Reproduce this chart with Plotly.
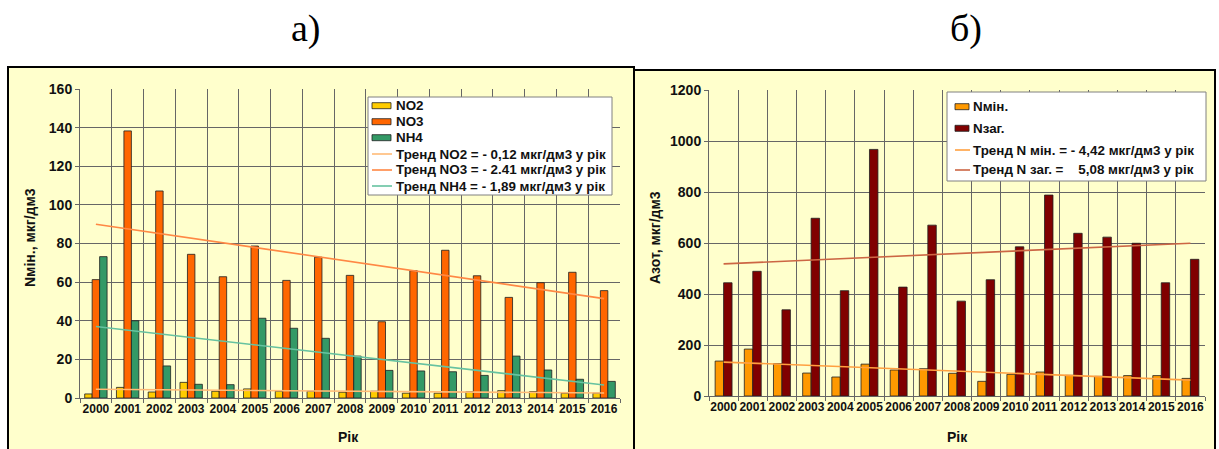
import plotly.graph_objects as go

W, H = 1219, 449

years = [str(y) for y in range(2000, 2017)]

# Panel а) — mineral nitrogen forms, мкг/дм3
no2 = [2.1, 5.5, 3.1, 8.1, 3.5, 4.7, 3.5, 3.5, 3.0, 3.5, 2.5, 2.5, 3.3, 3.8, 3.3, 2.5, 2.5]
no3 = [61.3, 138.3, 107.2, 74.4, 62.8, 78.7, 60.9, 72.9, 63.5, 39.5, 65.9, 76.5, 63.3, 52.1, 59.7, 65.1, 55.6]
nh4 = [73.2, 40.0, 16.6, 7.1, 6.9, 41.3, 36.1, 30.9, 21.7, 14.3, 14.0, 13.6, 11.7, 21.7, 14.5, 9.7, 8.6]

# Linear trends: value at 2000 and slope per year
trend_no2 = (4.5, -0.12)
trend_no3 = (90.0, -2.41)
trend_nh4 = (37.0, -1.89)

# Panel б) — mineral and total nitrogen, мкг/дм3
n_min = [137, 184, 127, 90, 74.5, 125, 102, 107, 89, 57.5, 85, 94, 81, 77, 80, 80, 69]
n_tot = [444, 489, 338, 697, 413, 967, 427, 670, 372, 456, 585, 788, 638, 623, 599, 444, 536]

trend_nmin = (133.0, -4.42)
trend_ntot = (518.0, 5.08)

FONT = "Arial, Liberation Sans, sans-serif"
TXT = "#111111"
NB = "\u00a0"


def trend(params):
    a, b = params
    return [a + b * i for i in range(len(years))]


def px(x):
    return x / W


def py(y):
    return 1 - y / H


fig = go.Figure()
shapes = []
annotations = []

# ---- panel а)
bw = 0.235
series_a = [
    ("NO2", no2, "#FFCC00", -1.5 * bw),
    ("NO3", no3, "#FF6600", -0.5 * bw),
    ("NH4", nh4, "#339966", 0.5 * bw),
]
trends_a = [
    ("Тренд NO2 = - 0,12 мкг/дм3 у рік", trend_no2, "#FFBB77"),
    ("Тренд NO3 = - 2.41 мкг/дм3 у рік", trend_no3, "#FF8844"),
    ("Тренд NH4 = - 1,89 мкг/дм3 у рік", trend_nh4, "#66C2A0"),
]
for name, vals, col, off in series_a:
    fig.add_trace(go.Bar(
        x=years, y=vals, name=name, width=bw, offset=off, showlegend=False,
        marker=dict(color=col, line=dict(color="#202020", width=0.8)),
        xaxis="x", yaxis="y",
    ))
for name, params, col in trends_a:
    fig.add_trace(go.Scatter(
        x=years, y=trend(params), name=name, mode="lines", showlegend=False,
        line=dict(color=col, width=1.6), xaxis="x", yaxis="y",
    ))

# ---- panel б)
bw2 = 0.29
series_b = [
    ("Nмін.", n_min, "#FF9900", -bw2),
    ("Nзаг.", n_tot, "#800000", 0.0),
]
trends_b = [
    ("Тренд N мін. = - 4,42 мкг/дм3 у рік", trend_nmin, "#FFA040"),
    ("Тренд N заг. =" + NB * 4 + "5,08 мкг/дм3 у рік", trend_ntot, "#CC6644"),
]
for name, vals, col, off in series_b:
    fig.add_trace(go.Bar(
        x=years, y=vals, name=name, width=bw2, offset=off, showlegend=False,
        marker=dict(color=col, line=dict(color="#202020", width=0.8)),
        xaxis="x2", yaxis="y2",
    ))
for name, params, col in trends_b:
    fig.add_trace(go.Scatter(
        x=years, y=trend(params), name=name, mode="lines", showlegend=False,
        line=dict(color=col, width=1.6), xaxis="x2", yaxis="y2",
    ))


def legend_box(box, rows, sw_x, sw_w, text_x, entries):
    """Boxed key: entries are (label, colour, kind) with kind 'bar' or 'line'."""
    x0, y0, x1, y1 = box
    shapes.append(dict(type="rect", xref="paper", yref="paper", layer="above",
                       x0=px(x0), x1=px(x1), y0=py(y1), y1=py(y0),
                       fillcolor="white", line=dict(color="#808080", width=1)))
    for (label, col, kind), yc in zip(entries, rows):
        if kind == "bar":
            shapes.append(dict(type="rect", xref="paper", yref="paper", layer="above",
                               x0=px(sw_x), x1=px(sw_x + sw_w), y0=py(yc + 3), y1=py(yc - 3),
                               fillcolor=col, line=dict(color="#202020", width=0.8)))
        else:
            shapes.append(dict(type="line", xref="paper", yref="paper", layer="above",
                               x0=px(sw_x), x1=px(sw_x + sw_w + 1), y0=py(yc), y1=py(yc),
                               line=dict(color=col, width=1.6)))
        annotations.append(dict(text=label, x=px(text_x), y=py(yc), xref="paper", yref="paper",
                                xanchor="left", yanchor="middle", showarrow=False,
                                font=dict(family=FONT, size=13.4, color=TXT, weight="bold")))


legend_box((368, 97, 612, 195), [105.7, 121.7, 137.7, 154, 170, 186], 372, 19, 394,
           [(n, c, "bar") for n, _, c, _ in series_a] + [(n, c, "line") for n, _, c in trends_a])
legend_box((947, 92, 1206, 181), [106.7, 128.3, 150, 170], 955, 14, 971,
           [(n, c, "bar") for n, _, c, _ in series_b] + [(n, c, "line") for n, _, c in trends_b])

GRID = "#666666"
xcommon = dict(
    type="category", tickson="boundaries", showgrid=True, gridcolor=GRID, gridwidth=1,
    showline=True, linecolor=GRID, ticks="outside", ticklen=4, tickcolor=GRID, tickangle=0,
    tickfont=dict(family=FONT, size=12, color=TXT, weight="bold"),
    automargin=False, fixedrange=True,
)
ycommon = dict(
    showgrid=True, gridcolor=GRID, gridwidth=1, zeroline=False,
    showline=True, linecolor=GRID, ticks="outside", ticklen=4, tickcolor=GRID,
    tickfont=dict(family=FONT, size=14, color=TXT, weight="bold"),
    automargin=False, fixedrange=True,
)

# panel frames with light yellow fill
shapes += [
    dict(type="rect", xref="paper", yref="paper", layer="below",
         x0=px(8), x1=px(634), y0=-0.02, y1=py(67),
         fillcolor="#FFFFCC", line=dict(color="black", width=2)),
    dict(type="rect", xref="paper", yref="paper", layer="below",
         x0=px(634), x1=px(1215), y0=-0.02, y1=py(70),
         fillcolor="#FFFFCC", line=dict(color="black", width=2)),
]

serif = dict(family="Liberation Serif, Times New Roman, serif", size=38, color="black")
bold14 = dict(family=FONT, size=14, color=TXT, weight="bold")


def label(text, x, y, font, angle=0):
    annotations.append(dict(text=text, x=px(x), y=py(y), xref="paper", yref="paper",
                            xanchor="center", yanchor="middle", showarrow=False,
                            textangle=angle, font=font))


label("а)", 306, 29, serif)
label("б)", 966, 29, serif)
label("Nмін., мкг/дм3", 30, 238, bold14, -90)
label("Азот, мкг/дм3", 655, 238, bold14, -90)
label("Рік", 348, 437, bold14)
label("Рік", 957, 437, bold14)

fig.update_layout(
    width=W, height=H,
    margin=dict(l=0, r=0, t=0, b=0),
    paper_bgcolor="white", plot_bgcolor="white",
    barmode="overlay", showlegend=False,
    xaxis=dict(domain=[px(80), px(620)], anchor="y", **xcommon),
    yaxis=dict(domain=[py(398), py(89)], anchor="x", range=[0, 160], dtick=20, **ycommon),
    xaxis2=dict(domain=[px(709), px(1205)], anchor="y2", **xcommon),
    yaxis2=dict(domain=[py(396), py(90)], anchor="x2", range=[0, 1200], dtick=200, **ycommon),
    shapes=shapes,
    annotations=annotations,
)

fig.write_html("out.html", config=dict(displayModeBar=False))
